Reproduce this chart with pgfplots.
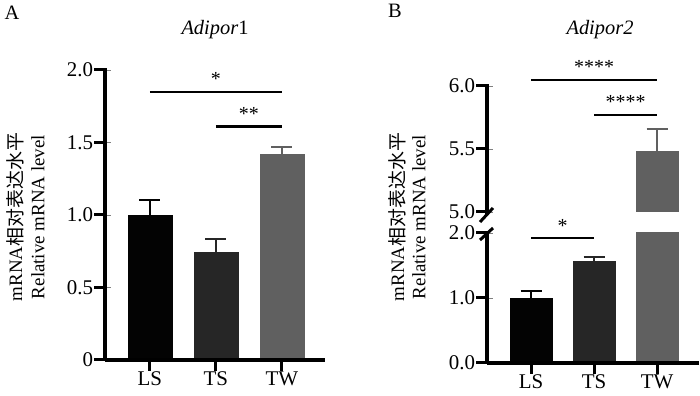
\documentclass[border=0pt]{standalone}
\usepackage{fontspec}
\setmainfont{Liberation Serif}
\newfontfamily\cjk{Noto Sans CJK SC}
\usepackage{pgfplots}
\pgfplotsset{compat=1.18}
\definecolor{cLS}{HTML}{030303}
\definecolor{cTS}{HTML}{262626}
\definecolor{cTW}{HTML}{606060}
\pgfplotsset{
  gp/.style={
    scale only axis,
    xtick={0,1,2}, xticklabels={LS,TS,TW},
    tick label style={font=\fontsize{21}{22}\selectfont},
    yticklabel style={xshift=-3bp},
    xticklabel style={yshift=-3bp},
    major tick length=11bp, tick align=outside,
  },
  eb/.style={error bars/.cd, y dir=plus, y explicit,
    error bar style={line width=2bp, #1},
    error mark options={rotate=90, line width=2bp, mark size=10.5bp, #1}},
}
\begin{document}
\begin{tikzpicture}
\useasboundingbox (0,0) rectangle (700bp,396bp);
% ---------- Panel A ----------
\node[font=\fontsize{20.5}{22}\selectfont] at (12bp,383bp) {A};
\node[font=\fontsize{20.5}{22}\selectfont\itshape] at (215bp,366bp) {Adipor\textup{1}};
\node[rotate=90, font=\fontsize{19}{21}\selectfont] at (15bp,179bp) {mRNA{\cjk 相对表达水平}};
\node[rotate=90, font=\fontsize{19}{21}\selectfont] at (38bp,179bp) {Relative mRNA level};
\begin{axis}[gp, at={(105bp,36bp)}, anchor=south west, clip=false,
  x=66bp, y=145bp, xmin=-0.68, xmax=2.65, ymin=0, ymax=2,
  axis x line=bottom, axis y line=left, axis line style={-},
  ytick={0,0.5,1,1.5,2}, yticklabels={0,0.5,1.0,1.5,2.0}]
\addplot[ybar, bar width=44bp, bar shift=0pt, fill=cLS, draw=cLS, eb=cLS] coordinates {(0,1.00) +- (0,0.10)};
\addplot[ybar, bar width=44bp, bar shift=0pt, fill=cTS, draw=cTS, eb=cTS] coordinates {(1,0.745) +- (0,0.09)};
\addplot[ybar, bar width=44bp, bar shift=0pt, fill=cTW, draw=cTW, eb=cTW] coordinates {(2,1.42) +- (0,0.05)};
\draw[line width=2.3bp] (axis cs:0,1.85) -- (axis cs:2,1.85);
\node[anchor=base, yshift=6bp, font=\fontsize{20}{22}\selectfont] at (axis cs:1,1.85) {*};
\draw[line width=2.3bp] (axis cs:1,1.61) -- (axis cs:2,1.61);
\node[anchor=base, yshift=6bp, font=\fontsize{20}{22}\selectfont] at (axis cs:1.5,1.61) {**};
\coordinate (Ay0) at (axis cs:-0.68,0);
\coordinate (Ay05) at (axis cs:-0.68,0.5);
\coordinate (Ay1) at (axis cs:-0.68,1);
\coordinate (Ay15) at (axis cs:-0.68,1.5);
\coordinate (Ay2) at (axis cs:-0.68,2);
\coordinate (Axe) at (axis cs:2.65,0);
\coordinate (Ax0) at (axis cs:0,0);
\coordinate (Ax1) at (axis cs:1,0);
\coordinate (Ax2) at (axis cs:2,0);
\end{axis}
\draw[line width=3.5bp, black] (Ay0) -- (Ay2);
\draw[line width=3.5bp, black] (Ay0) -- (Axe);
\foreach \p in {Ay0,Ay05,Ay1,Ay15,Ay2} \draw[line width=3bp, black] ([xshift=1.5bp]\p) -- ++(-12.5bp,0);
\foreach \p in {Ax0,Ax1,Ax2} \draw[line width=3bp, black] (\p) -- ++(0,-11bp);
% ---------- Panel B ----------
\node[font=\fontsize{20.5}{22}\selectfont] at (395bp,385bp) {B};
\node[font=\fontsize{20.5}{22}\selectfont\itshape] at (600bp,366bp) {Adipor2};
\node[rotate=90, font=\fontsize{19}{21}\selectfont] at (397bp,179bp) {mRNA{\cjk 相对表达水平}};
\node[rotate=90, font=\fontsize{19}{21}\selectfont] at (419bp,179bp) {Relative mRNA level};
% lower segment
\begin{axis}[gp, at={(487bp,33bp)}, anchor=south west,
  x=63bp, y=65bp, xmin=-0.70, xmax=2.66, ymin=0, ymax=2,
  axis x line=bottom, axis y line=left, axis line style={-},
  ytick={0,1,2}, yticklabels={0.0,1.0,2.0}]
\addplot[ybar, bar width=42bp, bar shift=0pt, fill=cLS, draw=cLS, eb=cLS] coordinates {(0,1.00) +- (0,0.11)};
\addplot[ybar, bar width=42bp, bar shift=0pt, fill=cTS, draw=cTS, eb=cTS] coordinates {(1,1.57) +- (0,0.06)};
\addplot[ybar, bar width=42bp, bar shift=0pt, fill=cTW, draw=cTW] coordinates {(2,5.48)};
\coordinate (s0) at (axis cs:0,1.92);
\coordinate (s1) at (axis cs:1,1.92);
\coordinate (s05) at (axis cs:0.5,1.92);
\coordinate (By0) at (axis cs:-0.70,0);
\coordinate (By1) at (axis cs:-0.70,1);
\coordinate (By2) at (axis cs:-0.70,2);
\coordinate (Bxe) at (axis cs:2.66,0);
\coordinate (Bx0) at (axis cs:0,0);
\coordinate (Bx1) at (axis cs:1,0);
\coordinate (Bx2) at (axis cs:2,0);
\end{axis}
% upper segment
\begin{axis}[gp, at={(487bp,184bp)}, anchor=south west,
  x=63bp, y=126bp, xmin=-0.70, xmax=2.66, ymin=5, ymax=6,
  axis x line=none, axis y line=left, axis line style={-}, xtick=\empty,
  ytick={5,5.5,6}, yticklabels={5.0,5.5,6.0}]
\addplot[ybar, bar width=42bp, bar shift=0pt, fill=cTW, draw=cTW, eb=cTW] coordinates {(2,5.48) +- (0,0.18)};
\coordinate (u0) at (axis cs:0,6.05);
\coordinate (u1) at (axis cs:1,6.05);
\coordinate (u2) at (axis cs:2,6.05);
\coordinate (v1) at (axis cs:1,5.77);
\coordinate (v2) at (axis cs:2,5.77);
\coordinate (v15) at (axis cs:1.5,5.77);
\coordinate (Cy5) at (axis cs:-0.70,5);
\coordinate (Cy55) at (axis cs:-0.70,5.5);
\coordinate (Cy6) at (axis cs:-0.70,6);
\end{axis}
\draw[line width=3.5bp, black] (By0) -- ([yshift=2bp]By2);
\draw[line width=3.5bp, black] (By0) -- (Bxe);
\draw[line width=3.5bp, black] ([yshift=-3bp]Cy5) -- (Cy6);
\foreach \p in {By0,By1,By2,Cy5,Cy55,Cy6} \draw[line width=3bp, black] ([xshift=1.5bp]\p) -- ++(-12.5bp,0);
\foreach \p in {Bx0,Bx1,Bx2} \draw[line width=3bp, black] (\p) -- ++(0,-11bp);
\draw[line width=2.3bp] (s0) -- (s1);
\node[anchor=base, yshift=6bp, font=\fontsize{20}{22}\selectfont] at (s05) {*};
\draw[line width=2.3bp] (u0) -- (u2);
\node[anchor=base, yshift=6bp, font=\fontsize{20}{22}\selectfont] at (u1) {****};
\draw[line width=2.3bp] (v1) -- (v2);
\node[anchor=base, yshift=6bp, font=\fontsize{20}{22}\selectfont] at (v15) {****};
% axis break marks
\draw[line width=3bp] (480bp,174bp) -- (493bp,188bp);
\draw[line width=3bp] (480bp,156bp) -- (493bp,168bp);
\end{tikzpicture}
\end{document}
